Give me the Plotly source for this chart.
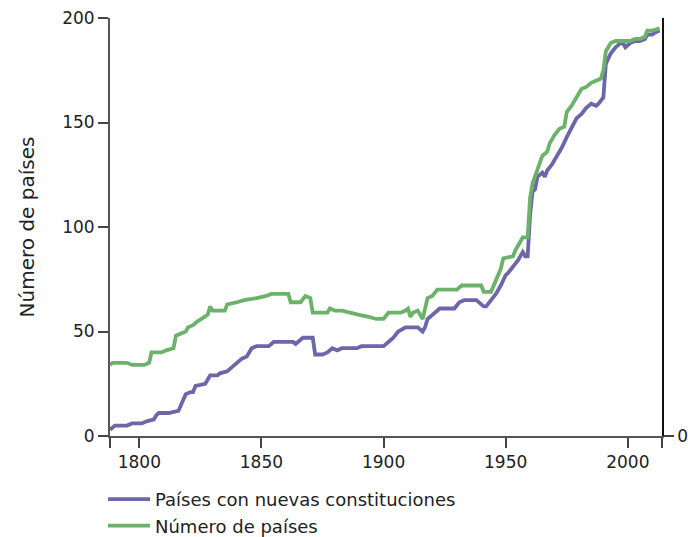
import plotly.graph_objects as go

# countries with new constitutions (purple)
const_years = [1788, 1790, 1795, 1797, 1801, 1803, 1806, 1807, 1808, 1812, 1816, 1817, 1819, 1821,
               1822, 1823, 1827, 1829, 1832, 1833, 1836, 1837, 1839, 1840, 1842, 1844, 1846, 1848,
               1853, 1855, 1863, 1864, 1866, 1867, 1871, 1872, 1875, 1877, 1879, 1881, 1883, 1889,
               1891, 1900, 1902, 1904, 1906, 1909, 1914, 1916, 1917, 1918, 1921, 1923, 1929, 1931,
               1933, 1938, 1941, 1942, 1944, 1946, 1948, 1950, 1951, 1953, 1955, 1957, 1958, 1959,
               1960, 1961, 1962, 1963, 1965, 1966, 1967, 1969, 1971, 1973, 1975, 1977, 1979, 1981,
               1983, 1985, 1987, 1988, 1990, 1991, 1993, 1995, 1997, 1998, 1999, 2001, 2003, 2005,
               2007, 2008, 2010, 2011, 2013]
const_vals = [3, 5, 5, 6, 6, 7, 8, 10, 11, 11, 12, 15, 20, 21,
              21, 24, 25, 29, 29, 30, 31, 32, 34, 35, 37, 38, 42, 43,
              43, 45, 45, 44, 46, 47, 47, 39, 39, 40, 42, 41, 42, 42,
              43, 43, 45, 47, 50, 52, 52, 50, 52, 56, 59, 61, 61, 64,
              65, 65, 62, 62, 65, 68, 72, 77, 78, 81, 84, 88, 86, 86,
              106, 117, 118, 124, 126, 124, 127, 130, 134, 138, 143, 148, 152, 154,
              157, 159, 158, 159, 162, 178, 183, 186, 188, 188, 186, 188, 189, 189,
              190, 192, 192, 193, 194]

# number of countries (green)
count_years = [1788, 1789, 1795, 1797, 1802, 1804, 1805, 1809, 1811, 1814, 1815, 1817, 1819, 1820,
               1822, 1824, 1827, 1828, 1829, 1830, 1835, 1836, 1840, 1843, 1848, 1852, 1854, 1856,
               1861, 1862, 1866, 1868, 1870, 1871, 1877, 1878, 1880, 1883, 1886, 1890, 1894, 1897,
               1900, 1902, 1907, 1909, 1910, 1911, 1912, 1914, 1916, 1918, 1920, 1922, 1930, 1932,
               1940, 1941, 1944, 1946, 1948, 1949, 1953, 1954, 1956, 1957, 1959, 1960, 1961, 1962,
               1963, 1965, 1967, 1968, 1970, 1972, 1974, 1975, 1977, 1979, 1981, 1983, 1985, 1987,
               1989, 1990, 1991, 1993, 1995, 2001, 2003, 2005, 2007, 2008, 2010, 2013]
count_vals = [34, 35, 35, 34, 34, 35, 40, 40, 41, 42, 48, 49, 50, 52,
              53, 55, 57, 58, 62, 60, 60, 63, 64, 65, 66, 67, 68, 68,
              68, 64, 64, 67, 66, 59, 59, 61, 60, 60, 59, 58, 57, 56,
              56, 59, 59, 60, 61, 57, 59, 60, 56, 66, 67, 70, 70, 72,
              72, 69, 69, 74, 80, 85, 86, 89, 93, 95, 95, 114, 121, 124,
              128, 134, 136, 140, 144, 147, 148, 155, 158, 162, 166, 167, 169, 170,
              171, 175, 184, 188, 189, 189, 190, 190, 191, 194, 194, 195]

x_ticks = [1788, 1800, 1850, 1900, 1950, 2000, 2014]
x_labels = ["", "1800", "1850", "1900", "1950", "2000", ""]

fig = go.Figure()
fig.add_trace(go.Scatter(x=const_years, y=const_vals, mode="lines",
                         name="Países con nuevas constituciones",
                         line=dict(color="#6b67a8", width=3.8)))
fig.add_trace(go.Scatter(x=count_years, y=count_vals, mode="lines",
                         name="Número de países",
                         line=dict(color="#6cb26b", width=3.8)))
# empty trace so the right-hand axis gets drawn
fig.add_trace(go.Scatter(x=[None], y=[None], yaxis="y2", showlegend=False, hoverinfo="skip"))

W, H = 688, 537
fig.update_layout(
    width=W, height=H,
    margin=dict(l=110, r=26, t=18, b=101),
    plot_bgcolor="white", paper_bgcolor="white",
    font=dict(family="DejaVu Sans", size=17, color="#222"),
    xaxis=dict(range=[1788, 2014], tickvals=x_ticks, ticktext=x_labels, automargin=False,
               ticklabeloverflow="allow",
               showgrid=False, zeroline=False, showline=True, linecolor="#555", linewidth=2,
               ticks="outside", ticklen=10, tickwidth=1.5, tickcolor="#444"),
    yaxis=dict(range=[0, 200], tickvals=[0, 50, 100, 150, 200], automargin=False,
               ticklabeloverflow="allow",
               title=dict(text="Número de países", standoff=22),
               showgrid=False, zeroline=False, showline=True, linecolor="#555", linewidth=2,
               ticks="outside", ticklen=10, tickwidth=1.5, tickcolor="#444"),
    yaxis2=dict(range=[0, 200], overlaying="y", side="right", tickvals=[0], automargin=False,
                ticklabeloverflow="allow",
                showgrid=False, zeroline=False, showline=True, linecolor="#111", linewidth=1.5,
                ticks="outside", ticklen=10, tickwidth=1.5, tickcolor="#444"),
    legend=dict(x=-7 / 552, y=1 - 481 / H, yref="container", xanchor="left", yanchor="top",
                orientation="v", font=dict(size=18), tracegroupgap=0, itemwidth=42),
)

# no mode bar, and drop the default page margin so the figure sits at the window's corner
fig.write_html("out.html", config={"displayModeBar": False},
               post_script="document.body.style.margin='0';document.body.style.overflow='hidden';")
